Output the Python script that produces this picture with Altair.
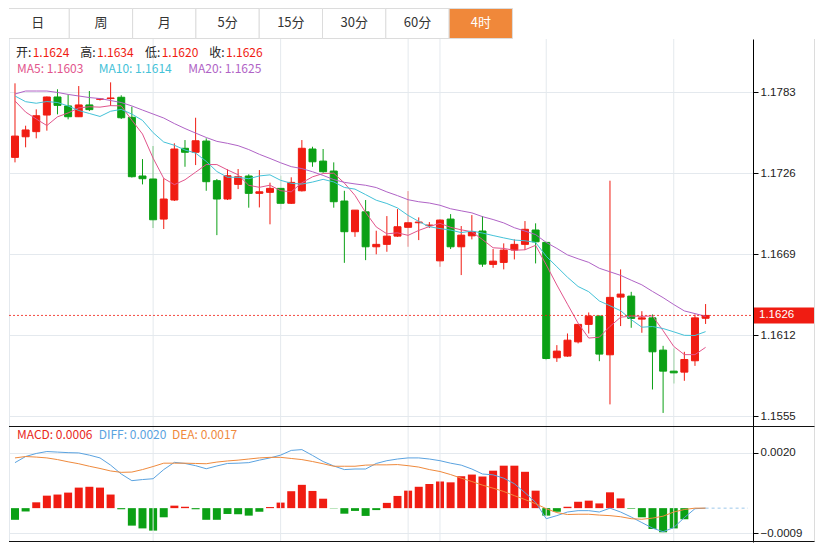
import altair as alt
import pandas as pd

# ---------------- data ----------------
opens = [1.17372, 1.17517, 1.17553, 1.17670, 1.17797, 1.17734, 1.17658, 1.17741, 1.17781, 1.17786,
         1.17795, 1.17654, 1.17241, 1.17220, 1.16938, 1.17072, 1.17436, 1.17408, 1.17487, 1.17208,
         1.17079, 1.17182, 1.17241, 1.17119, 1.17126, 1.17154, 1.17049, 1.17137, 1.17431, 1.17346,
         1.17276, 1.17065, 1.16849, 1.16989, 1.16743, 1.16760, 1.16818, 1.16880, 1.16912, 1.16892,
         1.16644, 1.16938, 1.16743, 1.16820, 1.16854, 1.16619, 1.16633, 1.16720, 1.16760, 1.16861,
         1.16774, 1.15962, 1.15974, 1.16074, 1.16197, 1.16255, 1.15983, 1.16389, 1.16396, 1.16234,
         1.16243, 1.16016, 1.15868, 1.15861, 1.15941, 1.1624]
highs = [1.17893, 1.17595, 1.17710, 1.17800, 1.17851, 1.17813, 1.17874, 1.17839, 1.17790, 1.17900,
         1.17809, 1.17729, 1.17360, 1.17452, 1.17225, 1.17471, 1.17494, 1.17651, 1.17506, 1.17220,
         1.17288, 1.17290, 1.17253, 1.17283, 1.17194, 1.17243, 1.17232, 1.17494, 1.17447, 1.17431,
         1.17337, 1.17137, 1.17001, 1.17072, 1.16856, 1.16959, 1.17008, 1.17135, 1.16950, 1.16917,
         1.16938, 1.16973, 1.16889, 1.16966, 1.16959, 1.16727, 1.16767, 1.16795, 1.16924, 1.16908,
         1.16778, 1.16051, 1.16133, 1.16199, 1.16281, 1.16259, 1.17208, 1.16584, 1.16426, 1.16290,
         1.16267, 1.16046, 1.16028, 1.16004, 1.16267, 1.1634]
lows = [1.17337, 1.17443, 1.17506, 1.17560, 1.17675, 1.17640, 1.17656, 1.17698, 1.17772, 1.17734,
        1.17642, 1.17230, 1.17182, 1.16875, 1.16868, 1.17065, 1.17306, 1.17318, 1.17137, 1.16825,
        1.17072, 1.17149, 1.17018, 1.17020, 1.16901, 1.17006, 1.17044, 1.17132, 1.17306, 1.17264,
        1.17018, 1.16630, 1.16813, 1.16649, 1.16690, 1.16708, 1.16813, 1.16743, 1.16790, 1.16875,
        1.16602, 1.16727, 1.16544, 1.16795, 1.16602, 1.16595, 1.16584, 1.16654, 1.16720, 1.16626,
        1.15945, 1.15933, 1.15969, 1.16063, 1.16133, 1.15938, 1.15634, 1.16185, 1.16173, 1.16138,
        1.15739, 1.15574, 1.15781, 1.15800, 1.15905, 1.1620]
closes = [1.17522, 1.17565, 1.17665, 1.17797, 1.17738, 1.17658, 1.17741, 1.17708, 1.17783, 1.17790,
          1.17651, 1.17236, 1.17222, 1.16933, 1.17079, 1.17431, 1.17408, 1.17489, 1.17201, 1.17079,
          1.17243, 1.17236, 1.17119, 1.17130, 1.17154, 1.17049, 1.17196, 1.17436, 1.17341, 1.17271,
          1.17060, 1.16849, 1.17001, 1.16743, 1.16760, 1.16818, 1.16884, 1.16912, 1.16917, 1.16896,
          1.16931, 1.16743, 1.16825, 1.16849, 1.16621, 1.16642, 1.16720, 1.16760, 1.16866, 1.16778,
          1.15957, 1.16009, 1.16086, 1.16197, 1.16255, 1.15988, 1.16387, 1.16410, 1.16239, 1.16243,
          1.16004, 1.15868, 1.15856, 1.15950, 1.16243, 1.1626]

# moving-average values at the left edge (history before the first visible candle)
ma5_head = [1.17769, 1.17691, 1.17642, 1.17596]
ma10_head = [1.17804, 1.17764, 1.17753, 1.17765, 1.17758, 1.17734, 1.17702, 1.17681, 1.17660]
ma20_head = [1.17818, 1.17839, 1.17839, 1.17839, 1.17829, 1.17815, 1.17804, 1.17793, 1.17786, 1.17772,
             1.17758, 1.17734, 1.17705, 1.17677, 1.17649, 1.17610, 1.17575, 1.17543, 1.17512]

macd_hist = [-0.00042, -0.00012, 0.00021, 0.00045, 0.00049, 0.00056, 0.00074, 0.00077, 0.00074, 0.00049,
             -0.00004, -0.00063, -0.00073, -0.00081, -0.00033, 0.00009, 0.00005, -0.00004, -0.00042, -0.00042,
             -0.00021, -0.00022, -0.00027, -0.00013, 0.00004, 0.00020, 0.00061, 0.00084, 0.00062, 0.00034,
             -0.00001, -0.00020, -0.00010, -0.00028, -0.00007, 0.00019, 0.00044, 0.00063, 0.00077, 0.00087,
             0.00096, 0.00093, 0.00115, 0.00121, 0.00114, 0.00135, 0.00153, 0.00153, 0.00131, 0.00063,
             -0.00027, -0.00013, 0.00005, 0.00023, 0.00027, 0.00017, 0.00057, 0.00035, -0.00002, -0.00033,
             -0.00075, -0.00087, -0.00073, -0.00040, 0.0, 0.0]
diff_line = [0.00164, 0.00186, 0.00197, 0.00204, 0.00202, 0.00200, 0.00199, 0.00191, 0.00181, 0.00155,
             0.00123, 0.00099, 0.00103, 0.00106, 0.00139, 0.00165, 0.00161, 0.00153, 0.00142, 0.00152,
             0.00161, 0.00162, 0.00164, 0.00173, 0.00181, 0.00191, 0.00208, 0.00211, 0.00190, 0.00168,
             0.00152, 0.00139, 0.00141, 0.00141, 0.00161, 0.00171, 0.00177, 0.00181, 0.00181, 0.00177,
             0.00171, 0.00162, 0.00155, 0.00141, 0.00123, 0.00120, 0.00108, 0.00088, 0.00056, 0.00021,
             -0.00038, -0.00027, -0.00014, -0.00009, -0.00009, -0.00014, 0.00000, -0.00014, -0.00032, -0.00052,
             -0.00072, -0.00085, -0.00070, -0.00034, -0.00002, 0.0]
dea_line = [0.00181, 0.00186, 0.00184, 0.00181, 0.00175, 0.00167, 0.00160, 0.00151, 0.00143, 0.00134,
            0.00129, 0.00130, 0.00139, 0.00150, 0.00162, 0.00162, 0.00162, 0.00161, 0.00160, 0.00166,
            0.00170, 0.00173, 0.00177, 0.00181, 0.00183, 0.00183, 0.00179, 0.00175, 0.00168, 0.00160,
            0.00151, 0.00151, 0.00151, 0.00155, 0.00156, 0.00156, 0.00157, 0.00153, 0.00148, 0.00139,
            0.00132, 0.00121, 0.00108, 0.00096, 0.00083, 0.00072, 0.00060, 0.00045, 0.00031, 0.00016,
            -0.00002, -0.00016, -0.00023, -0.00022, -0.00022, -0.00025, -0.00027, -0.00031, -0.00038, -0.00040,
            -0.00036, -0.00029, -0.00014, -0.00005, 0.0, 0.0]

price_ticks = [1.1555, 1.1612, 1.1669, 1.1726, 1.1783]
macd_ticks = [-0.0009, 0.0020]
session_idx = [13, 25, 37, 40, 50, 62]
tabs = ["日", "周", "月", "5分", "15分", "30分", "60分", "4时"]
active_tab = "4时"
ma_values = ["1.1603", "1.1614", "1.1625"]
macd_values = ["0.0006", "0.0020", "0.0017"]

# ---------------- styling ----------------
RED = "#f01c12"
GREEN = "#0ba015"
ORANGE = "#f0883a"
GRID = "#e4e9ee"
MA5C, MA10C, MA20C = "#e2558c", "#44c2d8", "#b063c6"
DIFFC, DEAC = "#5ba3e0", "#ef8a3d"
CJK = "Noto Sans CJK SC"
AXF = "Liberation Sans"

W, TH, PH, MH = 744, 31, 387, 116
PX = 0.00007037   # price per pixel

# ---------------- frames ----------------
n = len(closes)
df = pd.DataFrame({"i": list(range(n)), "open": opens, "high": highs, "low": lows, "close": closes})
df["dir"] = ["up" if c >= o else "down" for o, c in zip(opens, closes)]
ma5 = df["close"].rolling(5).mean().tolist()
ma10 = df["close"].rolling(10).mean().tolist()
ma20 = df["close"].rolling(20).mean().tolist()
ma5[:len(ma5_head)] = ma5_head
ma10[:len(ma10_head)] = ma10_head
ma20[:len(ma20_head)] = ma20_head
df["ma5"], df["ma10"], df["ma20"] = ma5, ma10, ma20

mdf = pd.DataFrame({"i": list(range(n)), "macd": macd_hist, "diff": diff_line, "dea": dea_line})
mdf["dir"] = ["up" if v >= 0 else "down" for v in macd_hist]

xs = alt.Scale(domain=[-0.093, 68.99], nice=False, zero=False)
ys = alt.Scale(domain=[1.15482, 1.18205], nice=False, zero=False)
ms = alt.Scale(domain=[-0.00122, 0.00296], nice=False, zero=False)
cs = alt.Scale(domain=["up", "down"], range=[RED, GREEN])

price_axis = alt.Axis(orient="right", values=price_ticks, format=".4f", title=None, grid=True,
                      gridColor=GRID, domainColor="#000", tickColor="#000", tickSize=5,
                      labelPadding=2, labelFont=AXF, labelFontSize=11.5, labelColor="#222")
macd_axis = alt.Axis(orient="right", values=macd_ticks, format=".4f", title=None, grid=True,
                     gridColor=GRID, domainColor="#000", tickColor="#000", tickSize=5,
                     labelPadding=2, labelFont=AXF, labelFontSize=11.5, labelColor="#222")


def PY(field):
    return alt.Y(field, scale=ys, axis=price_axis)


def MY(field, **kw):
    return alt.Y(field, scale=ms, axis=macd_axis, **kw)


def txt(s, x, y, color, size=12):
    return alt.Chart(pd.DataFrame({"t": [s]})).mark_text(
        align="left", baseline="middle", font=CJK, fontSize=size, color=color
    ).encode(x=alt.value(x), y=alt.value(y), text="t:N")


def vline(x, h, color):
    return alt.Chart(pd.DataFrame({"a": [0]})).mark_rule(color=color, strokeWidth=1).encode(
        x=alt.value(x), y=alt.value(0), y2=alt.value(h))


def hline(y, color):
    return alt.Chart(pd.DataFrame({"a": [0]})).mark_rule(color=color, strokeWidth=1).encode(
        x=alt.value(0), x2=alt.value(805.5), y=alt.value(y))


# ---------------- tab bar ----------------
tdf = pd.DataFrame({"label": tabs, "i": list(range(len(tabs)))})
tdf["i2"] = tdf["i"] + 1
tdf["xm"] = tdf["i"] + 0.5
tdf["on"] = tdf["label"] == active_tab
txs = alt.Scale(domain=[0.0474, 11.80], nice=False, zero=False)
tab_rect = alt.Chart(tdf).mark_rect(stroke="#dcdcdc", strokeWidth=1, clip=True).encode(
    x=alt.X("i:Q", scale=txs, axis=None), x2="i2:Q",
    y=alt.value(0.5), y2=alt.value(30.5),
    fill=alt.condition("datum.on", alt.value(ORANGE), alt.value("white")))
tab_text = alt.Chart(tdf).mark_text(font=CJK, fontSize=13, baseline="middle").encode(
    x=alt.X("xm:Q", scale=txs, axis=None), y=alt.value(15), text="label:N",
    color=alt.condition("datum.on", alt.value("white"), alt.value("#333")))
tab_chart = alt.layer(tab_rect, tab_text).properties(width=W, height=TH)

# ---------------- price panel ----------------
base = alt.Chart(df)
vgrid = alt.Chart(pd.DataFrame({"i": session_idx})).mark_rule(color=GRID).encode(
    x=alt.X("i:Q", scale=xs, axis=None))
wicks = base.mark_rule(strokeWidth=1, clip=True).encode(
    x=alt.X("i:Q", scale=xs, axis=None),
    y=PY("low:Q"), y2="high:Q",
    color=alt.Color("dir:N", scale=cs, legend=None))
bodies = base.mark_bar(size=7, strokeWidth=1, clip=True).encode(
    x=alt.X("i:Q", scale=xs, axis=None),
    y=PY("open:Q"), y2="close:Q",
    color=alt.Color("dir:N", scale=cs, legend=None),
    stroke=alt.Stroke("dir:N", scale=cs, legend=None))


def ma_line(field, color):
    return base.mark_line(color=color, strokeWidth=1, clip=True).encode(
        x=alt.X("i:Q", scale=xs, axis=None), y=PY(f"{field}:Q"))


last = closes[-1]
lab = pd.DataFrame({"y": [last], "y1": [last + 8 * PX], "y2": [last - 8 * PX], "t": [f"{last:.4f}"]})
price_line = alt.Chart(lab).mark_rule(color=RED, strokeDash=[2, 2], opacity=0.8).encode(
    x=alt.value(0), x2=alt.value(W), y=PY("y:Q"))
price_box = alt.Chart(lab).mark_rect(color=RED).encode(
    x=alt.value(745), x2=alt.value(805), y=PY("y1:Q"), y2="y2:Q")
price_lab = alt.Chart(lab).mark_text(align="left", baseline="middle", color="white",
                                     font=AXF, fontSize=11.5).encode(
    x=alt.value(750), y=PY("y:Q"), text="t:N")

row1 = [("开:", 7, "#222"), (f"{opens[-1]:.4f}", 23.7, RED),
        ("高:", 71.3, "#222"), (f"{highs[-1]:.4f}", 88, RED),
        ("低:", 136, "#222"), (f"{lows[-1]:.4f}", 152.7, RED),
        ("收:", 200.3, "#222"), (f"{closes[-1]:.4f}", 217, RED)]
row2 = [("MA5: " + ma_values[0], 8, MA5C), ("MA10: " + ma_values[1], 89.7, MA10C),
        ("MA20: " + ma_values[2], 179.3, MA20C)]
legend1 = [txt(s, x, 13.7, c) for s, x, c in row1] + [txt(s, x, 30.3, c) for s, x, c in row2]

price_chart = alt.layer(
    wicks, vgrid, vline(0.5, PH, GRID), vline(805.5, PH, "#dcdcdc"),
    bodies,
    ma_line("ma5", MA5C), ma_line("ma10", MA10C), ma_line("ma20", MA20C),
    price_line, price_box, price_lab, *legend1
).properties(width=W, height=PH)

# ---------------- MACD panel ----------------
mbase = alt.Chart(mdf)
mvgrid = alt.Chart(pd.DataFrame({"i": session_idx})).mark_rule(color=GRID).encode(
    x=alt.X("i:Q", scale=xs, axis=None))
mbars = mbase.mark_bar(size=8, clip=True).encode(
    x=alt.X("i:Q", scale=xs, axis=None),
    y=MY("macd:Q", stack=None), y2=alt.datum(0),
    color=alt.Color("dir:N", scale=cs, legend=None))
diff_l = mbase.mark_line(color=DIFFC, strokeWidth=1, clip=True).encode(
    x=alt.X("i:Q", scale=xs, axis=None), y=MY("diff:Q"))
dea_l = mbase.mark_line(color=DEAC, strokeWidth=1, clip=True).encode(
    x=alt.X("i:Q", scale=xs, axis=None), y=MY("dea:Q"))
zero_ext = alt.Chart(pd.DataFrame({"x": [n - 1], "x2": [68.99], "y": [0.0]})).mark_rule(
    color="#9cc7ea", strokeDash=[3, 3]).encode(
    x=alt.X("x:Q", scale=xs, axis=None), x2="x2:Q", y=MY("y:Q"))
legend2 = [txt("MACD: " + macd_values[0], 8, 9.3, "#e8281c"),
           txt("DIFF: " + macd_values[1], 89.7, 9.3, DIFFC),
           txt("DEA: " + macd_values[2], 163, 9.3, DEAC)]

macd_chart = alt.layer(
    mbars, mvgrid, vline(0.5, MH, GRID), vline(805.5, MH, "#dcdcdc"),
    diff_l, dea_l, zero_ext,
    hline(0.5, "#111"), hline(MH - 0.5, "#111"), *legend2
).properties(width=W, height=MH)

chart = alt.vconcat(tab_chart, price_chart, macd_chart, spacing=0, bounds="flush").properties(
    padding=0, background="white"
).configure_view(stroke=None).configure_concat(spacing=0)

chart.save("out.html", embed_options={"renderer": "svg", "actions": False})
